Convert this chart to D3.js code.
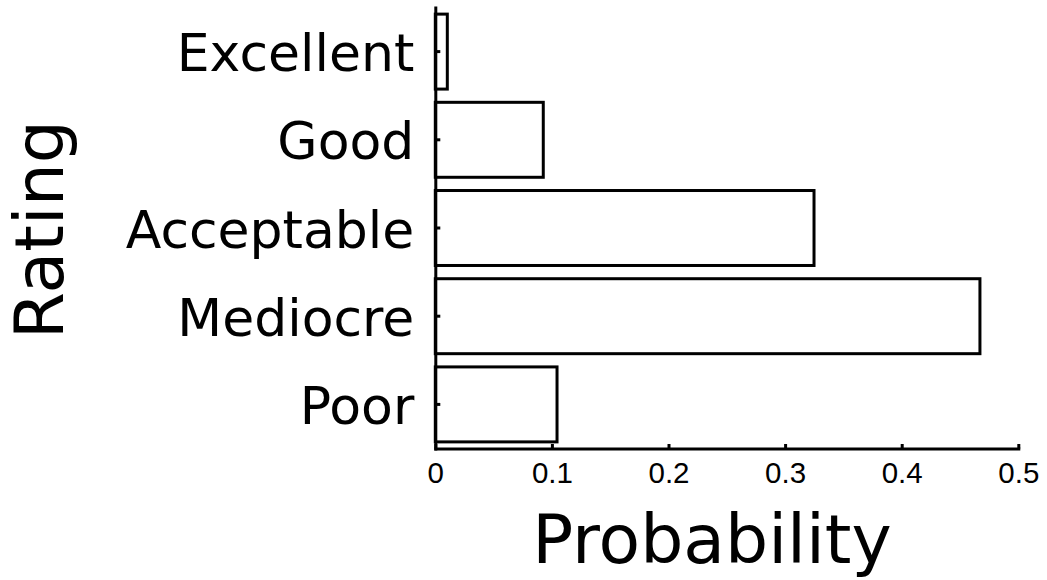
<!DOCTYPE html>
<html>
<head>
<meta charset="utf-8">
<script src="https://cdn.jsdelivr.net/npm/d3@7"></script>
<style>
  html, body { margin: 0; padding: 0; background: #fff; }
  svg { display: block; }
</style>
</head>
<body>
<svg id="chart" width="1047" height="580"></svg>
<script>
// Rating categories, top to bottom
const ratings = ["Excellent", "Good", "Acceptable", "Mediocre", "Poor"];
// Probability of each rating
const probabilities = [0.0103, 0.0926, 0.3248, 0.4671, 0.1044];
// Tick values on the probability axis
const xTicks = [0, 0.1, 0.2, 0.3, 0.4, 0.5];
const xTickLabels = ["0", "0.1", "0.2", "0.3", "0.4", "0.5"];

const data = ratings.map((r, i) => ({ rating: r, p: probabilities[i] }));

const svg = d3.select("#chart");

const x = d3.scaleLinear().domain([0, 0.5]).range([435.3, 1018.3]);
const y = d3.scaleBand()
  .domain(ratings)
  .range([7.5, 448.5])
  .paddingInner(0.15)
  .paddingOuter(0.075);

const stroke = 3;

// Bars
svg.append("g")
  .selectAll("rect")
  .data(data)
  .join("rect")
  .attr("x", x(0))
  .attr("y", d => y(d.rating))
  .attr("width", d => x(d.p) - x(0))
  .attr("height", y.bandwidth())
  .attr("fill", "#fff")
  .attr("stroke", "#000")
  .attr("stroke-width", stroke);

// Probability axis, ticks pointing up into the plot
const xAxis = svg.append("g")
  .attr("transform", `translate(0,${y.range()[1]})`)
  .call(d3.axisBottom(x)
    .tickValues(xTicks)
    .tickFormat((d, i) => xTickLabels[i])
    .tickSizeInner(-4.5)
    .tickSizeOuter(0)
    .tickPadding(14));
xAxis.select(".domain").attr("stroke-width", stroke).attr("stroke-linecap", "square");
xAxis.selectAll(".tick line").attr("stroke-width", stroke);
xAxis.selectAll(".tick text")
  .attr("font-family", "'Liberation Sans', Arial, sans-serif")
  .attr("font-size", 29.5)
  .attr("fill", "#000");

// Rating axis, ticks pointing right into the plot
const yAxis = svg.append("g")
  .attr("transform", `translate(${x(0)},0)`)
  .call(d3.axisLeft(y)
    .tickSizeInner(-5)
    .tickSizeOuter(0)
    .tickPadding(21));
yAxis.select(".domain").attr("stroke-width", stroke).attr("stroke-linecap", "square");
yAxis.selectAll(".tick line").attr("stroke-width", stroke);
yAxis.selectAll(".tick text")
  .attr("font-family", "'DejaVu Sans', sans-serif")
  .attr("font-size", 52)
  .attr("dy", "0.375em")
  .attr("fill", "#000");

// Axis titles
svg.append("text")
  .attr("x", 712)
  .attr("y", 563.3)
  .attr("text-anchor", "middle")
  .attr("font-family", "'DejaVu Sans', sans-serif")
  .attr("font-size", 68)
  .attr("fill", "#000")
  .text("Probability");

svg.append("text")
  .attr("transform", "translate(63.3,229.6) rotate(-90)")
  .attr("text-anchor", "middle")
  .attr("font-family", "'DejaVu Sans', sans-serif")
  .attr("font-size", 68)
  .attr("fill", "#000")
  .text("Rating");
</script>
</body>
</html>
